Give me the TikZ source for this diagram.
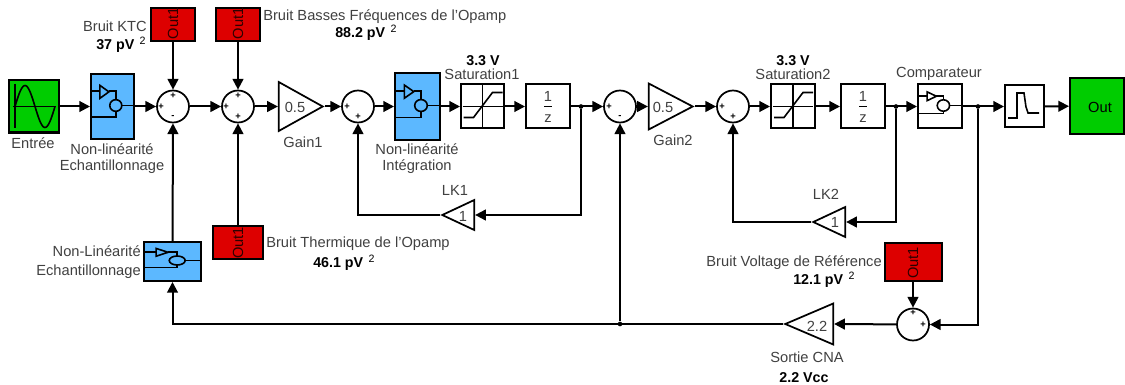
\documentclass[tikz,border=0pt]{standalone}
\usepackage{fontspec}
\setmainfont{Liberation Sans}
\usepackage{xcolor}
\usepackage{tikz}
\usetikzlibrary{positioning,arrows.meta,shapes.geometric}
\definecolor{srcgreen}{HTML}{00CC00}
\definecolor{noisered}{HTML}{DD0000}
\definecolor{nlblue}{HTML}{5CB8FF}
\definecolor{txtgray}{HTML}{404040}
\tikzset{
  blk/.style={rectangle, draw=black, fill=white, line width=1.5pt, inner sep=0pt, minimum width=33pt, minimum height=33pt},
  src/.style={blk, fill=srcgreen},
  noise/.style={blk, fill=noisered},
  nlb/.style={blk, fill=nlblue},
  sumb/.style={circle, draw=black, fill=white, line width=1.3pt, inner sep=0pt, minimum size=24pt},
  tri/.style={isosceles triangle, isosceles triangle stretches, shape border rotate=#1, draw=black, fill=white, line width=1.3pt, inner sep=0pt, anchor=apex},
  sig/.style={draw=black, line width=1.5pt, -{Triangle[length=8pt,width=8pt]}},
  ic/.style={draw=black, line width=1.2pt},
  dotj/.style={circle, fill=black, inner sep=0pt, minimum size=3.5pt},
  lbl/.style={font=\fontsize{11pt}{12pt}\selectfont, text=txtgray, inner sep=0pt, align=center},
  blbl/.style={font=\fontsize{10.7pt}{12pt}\selectfont\bfseries, text=black, inner sep=0pt},
  sgn/.style={font=\fontsize{7pt}{7pt}\selectfont\bfseries, text=black, inner sep=0pt},
  outl/.style={lbl, rotate=90, text=black!80!noisered}
}
\newcommand{\pvsq}[1]{#1 pV\,\raisebox{4pt}{\fontsize{8pt}{8pt}\selectfont\mdseries\ 2}}
\newcommand{\nlicon}[4]{%
  \begin{scope}[shift={(#1.north west)},xscale=#2,yscale=#3]
    \draw[ic] (0,.28)--(.23,.28);
    \draw[ic] (.23,.19)--(.44,.29)--(.23,.39)--cycle;
    \draw[ic] (.44,.28)--(.6,.28)--(.6,.5-#4);
    \draw[ic] (.6,.5) ellipse (.14 and #4);
    \draw[ic] (.74,.5)--(1,.5);
    \draw[ic] (.6,.5+#4)--(.6,.68)--(0,.68);
  \end{scope}}
\newcommand{\saticon}[1]{%
  \begin{scope}[shift={(#1.center)}]
    \draw[ic] (0,-21)--(0,21);
    \draw[ic] (-20,0)--(20,0);
    \draw[ic] (-19,11)--(-9,11)--(10,-14)--(20,-14);
  \end{scope}}
\begin{document}
\begin{tikzpicture}[x=0.75pt,y=-0.75pt]
  \useasboundingbox (0,0) rectangle (1125,385);
  % sources and noise
  \node[src, minimum width=37.5pt, minimum height=39pt] (en) at (33.5,106.5) {};
  \node[noise, minimum height=24.75pt] (nk) at (173,24.5) {};
  \node[noise, minimum height=24.75pt] (nb) at (238,24.5) {};
  \node[noise, minimum width=37.5pt, minimum height=24.75pt] (nt) at (238,242.5) {};
  \node[noise, minimum width=42.75pt, minimum height=28.5pt] (nv) at (913,262) {};
  \node[outl] (nkt) at (173,23.5) {Out1};
  \node[outl] (nbt) at (238,23.5) {Out1};
  \node[outl] (ntt) at (238,243) {Out1};
  \node[outl] (nvt) at (913,263) {Out1};
  % main chain
  \node[nlb, minimum width=32.25pt, minimum height=48.75pt] (b1) at (112.5,106.5) {};
  \node[sumb] (s1) at (173,106.5) {};
  \node[sumb] (s2) at (238,106.5) {};
  \node[tri=0, minimum width=36.75pt, minimum height=33pt] (g1) at (325,106.5) {};
  \node[sumb] (s3) at (358,106.5) {};
  \node[nlb, minimum width=33.75pt, minimum height=49.5pt] (b2) at (417.5,106.5) {};
  \node[blk, minimum width=32.25pt] (st1) at (482.5,106.5) {};
  \node[blk] (z1) at (548,106.5) {};
  \node[sumb] (s4) at (620,106.5) {};
  \node[tri=0, minimum width=34.5pt, minimum height=33pt] (g2) at (695,106.5) {};
  \node[sumb] (s5) at (733,106.5) {};
  \node[blk] (st2) at (793,106.5) {};
  \node[blk] (z2) at (863,106.5) {};
  \node[blk] (cp) at (940,106.5) {};
  \node[blk, minimum width=29.25pt, minimum height=31.5pt] (pl) at (1024.5,106.5) {};
  \node[src, minimum width=40.5pt, minimum height=41.25pt] (ot) at (1097,106) {};
  % feedback
  \node[tri=180, minimum width=22.5pt, minimum height=24pt] (lk1) at (440,215) {};
  \node[tri=180, minimum width=22.5pt, minimum height=24pt] (lk2) at (811,222) {};
  \node[tri=180, minimum width=30.75pt, minimum height=36pt] (cna) at (783,324) {};
  \node[nlb, minimum width=42.75pt, minimum height=29.25pt] (b3) at (172.5,261.5) {};
  \node[sumb] (s6) at (913,324.5) {};
  \node[dotj] (j1) at (581,106.5) {};
  \node[dotj] (j2) at (896,106.5) {};
  \node[dotj] (j3) at (978,106.5) {};
  \node[dotj] (j4) at (620,324) {};
  % icons
  \nlicon{b1}{43}{65}{.09}
  \nlicon{b2}{45}{66}{.09}
  \nlicon{cp}{44}{44}{.13}
  \nlicon{b3}{57}{39}{.115}
  \saticon{st1}
  \saticon{st2}
  \draw[ic] (15,84)--(15,128);
  \draw[ic] (13,106.5)--(56,106.5);
  \draw[ic] plot[domain=0:360,samples=40,smooth] ({15+\x/9},{106.5-21*sin(\x)});
  \draw[ic] (1008,118)--(1017,118)--(1017,93)--(1024,93)--(1026,107)--(1028,113)--(1039,113);
  % text in blocks
  \node[lbl, text=black] (ott) at (1100,107) {Out};
  \node[lbl] (g1t) at (295,107) {0.5};
  \node[lbl] (g2t) at (663,107) {0.5};
  \node[lbl] (lk1t) at (463,216) {1};
  \node[lbl] (lk2t) at (835,222) {1};
  \node[lbl] (cnat) at (817,326) {2.2};
  \foreach \z/\cx in {z1/548,z2/863} {
    \node[lbl] (\z a) at (\cx,96) {1};
    \node[lbl] (\z b) at (\cx,119) {z};
    \draw[ic] (\cx-4,106.5)--(\cx+4,106.5);
  }
  % signs
  \foreach \n/\x/\y/\t in {a/173/96/+,b/161/106.5/+,c/173/117/-,d/238/96/+,e/226/106.5/+,f/238/117/+,g/347/106.5/+,h/358/117/+,i/609/106.5/+,j/620/117/-,k/722/106.5/+,l/733/117/+,m/913/313/+,n/923/324.5/+}
    \node[sgn] (sg\n) at (\x,\y) {\t};
  % labels
  \node[lbl] (enl) at (33,143) {Entrée};
  \node[lbl] (b1l) at (112,159) {Non-linéarité\\Echantillonnage};
  \node[lbl, anchor=east] (nkl) at (147,26) {Bruit KTC};
  \node[blbl, anchor=west] (nkv) at (96,45) {\pvsq{37}};
  \node[lbl, anchor=west] (nbl) at (263,17) {Bruit Basses Fréquences de l'Opamp};
  \node[blbl, anchor=west] (nbv) at (335,33) {\pvsq{88.2}};
  \node[lbl] (g1l) at (303,142) {Gain1};
  \node[lbl] (b2l) at (417,159) {Non-linéarité\\Intégration};
  \node[blbl] (st1v) at (483,61) {3.3 V};
  \node[lbl] (st1l) at (482,74) {Saturation1};
  \node[lbl] (lk1l) at (455,190) {LK1};
  \node[lbl] (g2l) at (673,140) {Gain2};
  \node[blbl] (st2v) at (793,61) {3.3 V};
  \node[lbl] (st2l) at (793,74) {Saturation2};
  \node[lbl] (cpl) at (939,74) {Comparateur};
  \node[lbl] (lk2l) at (826,194) {LK2};
  \node[lbl, anchor=east, align=right] (b3l) at (141,262) {Non-Linéarité\\[2pt]Echantillonnage};
  \node[lbl, anchor=west] (ntl) at (266,244) {Bruit Thermique de l'Opamp};
  \node[blbl, anchor=west] (ntv) at (313,263) {\pvsq{46.1}};
  \node[lbl, anchor=east] (nvl) at (882,263) {Bruit Voltage de Référence};
  \node[blbl, anchor=west] (nvv) at (793,280) {\pvsq{12.1}};
  \node[lbl] (cnal) at (807,357) {Sortie CNA};
  \node[blbl] (cnav) at (804,378) {2.2 Vcc};
  % connectors
  \foreach \a/\b in {en/b1,b1/s1,s1/s2,s2/g1,g1/s3,s3/b2,b2/st1,st1/z1,z1/s4,s4/g2,g2/s5,s5/st2,st2/z2,z2/cp,cp/pl,pl/ot}
    \draw[sig] (\a) -- (\b);
  \draw[sig] (nk) -- (s1);
  \draw[sig] (nb) -- (s2);
  \draw[sig] (nt) -- (s2);
  \draw[sig] (b3) -- (s1);
  \draw[sig] (nv) -- (s6);
  \draw[sig] (j1) |- (lk1.east);
  \draw[sig] (lk1.west) -| (s3);
  \draw[sig] (j2) |- (lk2.east);
  \draw[sig] (lk2.west) -| (s5);
  \draw[sig] (j3) |- (s6);
  \draw[sig] (s6) -- (cna.east);
  \draw[sig] (cna.west) -| (b3);
  \draw[sig] (j4) -- (s4);
\end{tikzpicture}
\end{document}
